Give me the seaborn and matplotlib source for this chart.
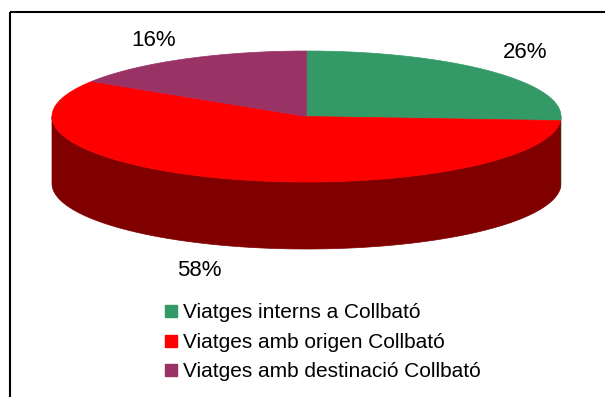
import numpy as np
import matplotlib
matplotlib.use("Agg")
import matplotlib.pyplot as plt
from matplotlib.patches import Polygon, Rectangle
from matplotlib.lines import Line2D
import seaborn as sns

# Trip shares (%)
categories = [
    "Viatges interns a Collbató",
    "Viatges amb origen Collbató",
    "Viatges amb destinació Collbató",
]
shares = [26, 58, 16]
top_colors = ["#339966", "#FF0000", "#993366"]
side_colors = ["#2E8A5C", "#800000", "#6B2447"]

sns.set_theme(style="white")
plt.rcParams["font.family"] = ["Liberation Sans", "DejaVu Sans"]
plt.rcParams["text.color"] = "black"

W, H = 605, 397
fig = plt.figure(figsize=(W / 100, H / 100), dpi=100)
ax = fig.add_axes([0, 0, 1, 1])
ax.set_xlim(0, W)
ax.set_ylim(H, 0)
ax.axis("off")

# 3D pie geometry (pixel units)
cx, cy = 306.5, 116.5
rx, ry = 254.5, 65.5
depth = 67.0


def arc(t0, t1, n=200):
    t = np.radians(np.linspace(t0, t1, n))
    return cx + rx * np.cos(t), cy - ry * np.sin(t)


frac = np.array(shares, dtype=float) / np.sum(shares)
ends = 90 - 360 * np.cumsum(frac)
starts = np.concatenate([[90], ends[:-1]])

# Side walls: only the front half of the cylinder (sin(theta) <= 0) is visible
for a0, a1, col in zip(starts, ends, side_colors):
    lo, hi = min(a0, a1), max(a0, a1)
    for k in (-1, 0, 1):
        f0, f1 = k * 360 - 180, k * 360
        s0, s1 = max(lo, f0), min(hi, f1)
        if s1 <= s0:
            continue
        xs, ys = arc(s0, s1)
        px = np.concatenate([xs, xs[::-1]])
        py = np.concatenate([ys, (ys + depth)[::-1]])
        ax.add_patch(Polygon(np.column_stack([px, py]), closed=True,
                             facecolor=col, edgecolor=col, lw=0.5))

# Top surface wedges
for a0, a1, col in zip(starts, ends, top_colors):
    xs, ys = arc(a0, a1)
    px = np.concatenate([[cx], xs])
    py = np.concatenate([[cy], ys])
    ax.add_patch(Polygon(np.column_stack([px, py]), closed=True,
                         facecolor=col, edgecolor=col, lw=0.5))

# Percentage labels
label_pos = [(525, 53), (199, 271), (154, 40)]
for v, (lx, ly) in zip(shares, label_pos):
    ax.text(lx, ly, f"{v}%", fontsize=16, ha="center", va="center", color="black")

# Legend
handles = [Line2D([], [], marker="s", linestyle="none", markersize=8.6,
                  markerfacecolor=c, markeredgecolor=c) for c in top_colors]
ax.legend(handles, categories, loc="upper left",
          bbox_to_anchor=(164, 303.5), bbox_transform=ax.transData,
          frameon=False, fontsize=15, borderpad=0, borderaxespad=0,
          handlelength=0.63, handletextpad=0.29, labelspacing=0.5,
          labelcolor="black")

# Chart frame
ax.add_patch(Rectangle((10, 12), 800, 600, fill=False, edgecolor="black", lw=1.5))

fig.savefig("out.png", dpi=100)
